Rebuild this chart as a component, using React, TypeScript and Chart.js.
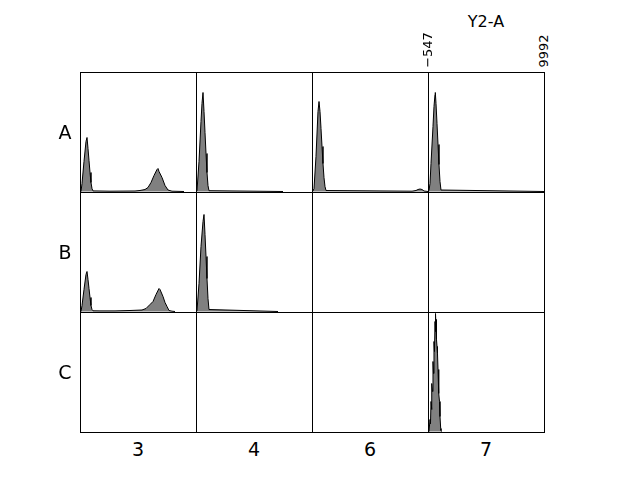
import React, { useEffect, useRef } from 'react';
import { Chart, registerables } from 'chart.js';

Chart.register(...registerables);

// ---- labels ----
const ROW_LABELS = ['A', 'B', 'C'];
const COL_LABELS = ['3', '4', '6', '7'];
const AXIS_TITLE = 'Y2-A';
const X_MIN = -547;
const X_MAX = 9992;
const TICK_LABELS = ['\u2212547', '9992'];
const Y_MAX = 119.5;

// ---- histogram data (Y2-A value, count) ----
const A3_x = [-547, -456, -365, -184, -2, 89, 180, 271, 362, 452, 543, 634, 2179, 4450, 4905, 5359, 5631, 5904, 6177, 6449, 6540, 6631, 6904, 7176, 7449, 7812, 8902];
const A3_y = [0, 0, 8, 30, 50, 54, 43, 31, 19, 9, 3, 0.6, 0.3, 0.5, 1, 2, 4, 9, 16, 22, 23, 20, 14, 6, 1.5, 0.3, 0];

const A4_x = [-547, -456, -274, -93, -2, 89, 180, 271, 362, 452, 543, 634, 7358];
const A4_y = [0, 1, 30, 70, 88, 99, 80, 59, 38, 19, 6, 0.8, 0];

const A6_x = [-547, -456, -365, -184, -2, 89, 180, 271, 362, 452, 543, 634, 725, 8539, 8902, 9084, 9266, 9448, 9630, 9993];
const A6_y = [0, 0.5, 3, 35, 80, 90, 80, 63, 45, 28, 14, 5, 1, 0.3, 1, 2, 2.5, 2, 0.5, 0];

const A7_x = [-547, -456, -365, -274, -93, -2, 89, 116, 180, 271, 362, 452, 543, 634, 9993];
const A7_y = [0.5, 1, 8, 28, 65, 85, 97, 99, 88, 68, 47, 27, 10, 1.5, 0];

const B3_x = [-547, -456, -365, -184, -2, 89, 180, 271, 362, 452, 543, 634, 1271, 2633, 3996, 5086, 5450, 5813, 6086, 6358, 6631, 6722, 6994, 7176, 7358, 7540, 7812, 8085];
const B3_y = [0, 0, 6, 22, 37, 40, 32, 23, 14, 6, 2, 0.7, 0.6, 0.6, 1, 1.5, 3, 7, 10, 17, 23, 22, 15, 9, 5, 1, 0.3, 0];

const B4_x = [-547, -456, -274, -93, 89, 180, 271, 362, 452, 543, 634, 6904];
const B4_y = [0, 1, 28, 65, 90, 97, 77, 55, 33, 13, 2, 0];

const C7_x = [-547, -456, -365, -320, -274, -229, -184, -138, -93, -47, -2, 43, 89, 116, 153, 180, 207, 243, 271, 316, 362, 407, 452, 498, 543, 607, 634, 725];
const C7_y = [0, 0, 12, 8, 30, 22, 48, 40, 70, 58, 90, 80, 110, 100, 118, 104, 112, 92, 85, 78, 62, 55, 38, 30, 15, 3, 1, 0];

type Hist = { x: number[]; y: number[] } | null;
const GRID: Hist[][] = [
  [{ x: A3_x, y: A3_y }, { x: A4_x, y: A4_y }, { x: A6_x, y: A6_y }, { x: A7_x, y: A7_y }],
  [{ x: B3_x, y: B3_y }, { x: B4_x, y: B4_y }, null, null],
  [null, null, null, { x: C7_x, y: C7_y }],
];

// ---- layout ----
const LEFT = 80;
const TOP = 72;
const CW = 116;
const CH = 120;
const FONT = '"DejaVu Sans", sans-serif';

function Cell({ hist, left, top }: { hist: Hist; left: number; top: number }) {
  const ref = useRef<HTMLCanvasElement>(null);
  useEffect(() => {
    const pts = hist ? hist.x.map((x, i) => ({ x, y: hist.y[i] })) : [];
    const chart = new Chart(ref.current as HTMLCanvasElement, {
      type: 'line',
      data: {
        datasets: [
          {
            data: pts,
            borderColor: '#000000',
            borderWidth: 1,
            backgroundColor: '#808080',
            fill: 'origin',
            pointRadius: 0,
            tension: 0,
          },
        ],
      },
      options: {
        animation: false,
        responsive: false,
        maintainAspectRatio: false,
        layout: { padding: 0 },
        plugins: { legend: { display: false }, tooltip: { enabled: false } },
        scales: {
          x: { type: 'linear', min: X_MIN, max: X_MAX, display: false },
          y: { type: 'linear', min: -0.5, max: Y_MAX, display: false },
        },
      },
    });
    return () => chart.destroy();
  }, [hist]);
  return (
    <canvas
      ref={ref}
      width={CW}
      height={CH}
      style={{ position: 'absolute', left, top, width: CW, height: CH }}
    />
  );
}

function Label({ text, x, y, size, rotate }: { text: string; x: number; y: number; size: number; rotate?: boolean }) {
  return (
    <div
      style={{
        position: 'absolute',
        left: x,
        top: y,
        transform: `translate(-50%, -50%)${rotate ? ' rotate(-90deg)' : ''}`,
        fontFamily: FONT,
        fontSize: size,
        color: '#000',
        whiteSpace: 'nowrap',
        lineHeight: 1.16,
      }}
    >
      {text}
    </div>
  );
}

export default function App() {
  const lines: React.ReactNode[] = [];
  for (let c = 0; c <= COL_LABELS.length; c++) {
    lines.push(
      <div key={'v' + c} style={{ position: 'absolute', left: LEFT + c * CW, top: TOP, width: 1, height: CH * ROW_LABELS.length + 1, background: '#000' }} />
    );
  }
  for (let r = 0; r <= ROW_LABELS.length; r++) {
    lines.push(
      <div key={'h' + r} style={{ position: 'absolute', left: LEFT, top: TOP + r * CH, width: CW * COL_LABELS.length + 1, height: 1, background: '#000' }} />
    );
  }
  return (
    <div style={{ position: 'fixed', left: 0, top: 0, width: 640, height: 480, background: '#fff', overflow: 'hidden' }}>
      {GRID.map((row, r) =>
        row.map((hist, c) => (
          <Cell key={r + '-' + c} hist={hist} left={LEFT + c * CW} top={TOP + r * CH} />
        ))
      )}
      {lines}
      {ROW_LABELS.map((t, r) => (
        <Label key={'r' + t} text={t} x={65} y={TOP + r * CH + 60} size={19} />
      ))}
      {COL_LABELS.map((t, c) => (
        <Label key={'c' + t} text={t} x={LEFT + c * CW + 58} y={449} size={19} />
      ))}
      <Label text={AXIS_TITLE} x={486} y={22} size={16} />
      <Label text={TICK_LABELS[0]} x={428} y={50} size={13} rotate />
      <Label text={TICK_LABELS[1]} x={544} y={51} size={13} rotate />
    </div>
  );
}
